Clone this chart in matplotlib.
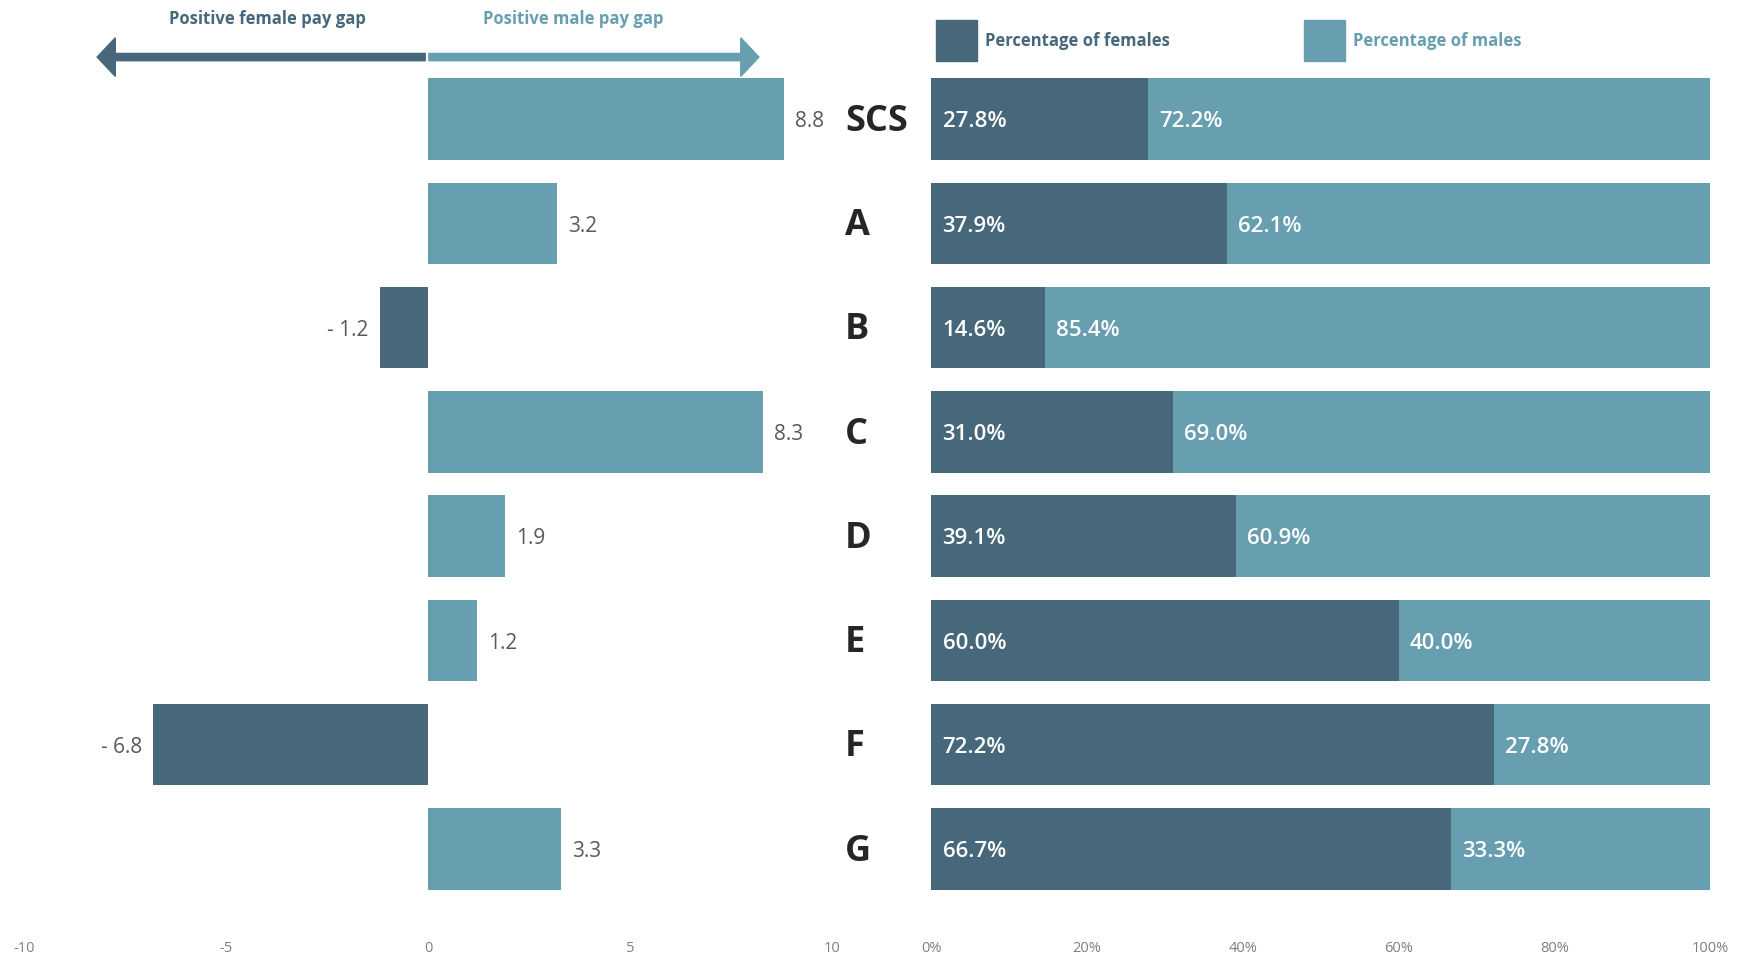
import matplotlib.pyplot as plt
from matplotlib.patches import FancyArrow, Rectangle

# ----------------------------
#  Datos
# ----------------------------
categorias = ["SCS", "A", "B", "C", "D", "E", "F", "G"]
brecha_salarial = [8.8, 3.2, -1.2, 8.3, 1.9, 1.2, -6.8, 3.3]
pct_mujeres = [27.8, 37.9, 14.6, 31.0, 39.1, 60.0, 72.2, 66.7]
pct_hombres = [72.2, 62.1, 85.4, 69.0, 60.9, 40.0, 27.8, 33.3]
ticks_brecha = [-10, -5, 0, 5, 10]
ticks_pct = [0, 20, 40, 60, 80, 100]

OSCURO = "#46687a"
CLARO = "#679fb1"
GRIS = "#595959"

plt.rcParams['font.family'] = ['Open Sans', 'DejaVu Sans']

fig = plt.figure(figsize=(17.43, 9.57), dpi=100)
ax1 = fig.add_axes([0.01377, 0.0585, 0.4636, 0.8715])
ax2 = fig.add_axes([0.5344, 0.0585, 0.4467, 0.8715])

y = list(range(len(categorias)))
alto = 0.78

# ---------------------------------------------------
#  Panel izquierdo: brecha salarial
# ---------------------------------------------------
colores = [CLARO if v >= 0 else OSCURO for v in brecha_salarial]
ax1.barh(y, brecha_salarial, height=alto, color=colores)
for yi, v in zip(y, brecha_salarial):
    if v >= 0:
        ax1.annotate(f"{v:.1f}", (v, yi), xytext=(8, -2), textcoords='offset points',
                     ha='left', va='center', fontsize=15, color=GRIS)
    else:
        ax1.annotate(f"- {abs(v):.1f}", (v, yi), xytext=(-8, -2), textcoords='offset points',
                     ha='right', va='center', fontsize=15, color=GRIS)

ax1.set_xlim(-10, 10)
ax1.set_ylim(7.5, -0.5)
ax1.set_xticks(ticks_brecha)
ax1.set_xticklabels([str(t) for t in ticks_brecha])
ax1.set_yticks([])

# flechas de cabecera
y_flecha = -0.595
ax1.add_patch(FancyArrow(-0.07, y_flecha, -8.12, 0, width=0.07, head_width=0.37,
                         head_length=0.45, length_includes_head=True,
                         color=OSCURO, clip_on=False))
ax1.add_patch(FancyArrow(0.02, y_flecha, 8.17, 0, width=0.07, head_width=0.37,
                         head_length=0.45, length_includes_head=True,
                         color=CLARO, clip_on=False))
ax1.text(-3.97, -0.96, "Positive female pay gap", ha='center', va='center',
         fontsize=12, fontweight='bold', color=OSCURO)
ax1.text(3.6, -0.96, "Positive male pay gap", ha='center', va='center',
         fontsize=12, fontweight='bold', color=CLARO)

# ---------------------------------------------------
#  Panel derecho: porcentajes
# ---------------------------------------------------
ax2.barh(y, pct_mujeres, height=alto, color=OSCURO)
ax2.barh(y, pct_hombres, left=pct_mujeres, height=alto, color=CLARO)
for yi, f, m in zip(y, pct_mujeres, pct_hombres):
    ax2.annotate(f"{f:.1f}%", (0, yi), xytext=(8, -2), textcoords='offset points',
                 ha='left', va='center', fontsize=16, color='white', fontweight='semibold')
    ax2.annotate(f"{m:.1f}%", (f, yi), xytext=(8, -2), textcoords='offset points',
                 ha='left', va='center', fontsize=16, color='white', fontweight='semibold')

trans = ax2.get_yaxis_transform()
for yi, cat in zip(y, categorias):
    ax2.annotate(cat, (-0.111, yi), xycoords=trans, xytext=(0, -2), textcoords='offset points',
                 ha='left', va='center', fontsize=26, fontweight='bold', color='#262626')

ax2.set_xlim(0, 100)
ax2.set_ylim(7.5, -0.5)
ax2.set_xticks(ticks_pct)
ax2.set_xticklabels([f"{t}%" for t in ticks_pct])
ax2.set_yticks([])

# leyenda manual
ax2.add_patch(Rectangle((0.58, -0.95), 5.27, 0.393, color=OSCURO, clip_on=False))
ax2.text(6.87, -0.75, "Percentage of females", ha='left', va='center',
         fontsize=12, fontweight='bold', color=OSCURO)
ax2.add_patch(Rectangle((47.8, -0.95), 5.27, 0.393, color=CLARO, clip_on=False))
ax2.text(54.1, -0.75, "Percentage of males", ha='left', va='center',
         fontsize=12, fontweight='bold', color=CLARO)

for ax in (ax1, ax2):
    for s in ax.spines.values():
        s.set_visible(False)
    ax.tick_params(axis='x', length=0, pad=29, labelsize=10.5, labelcolor='#7f7f7f')

fig.savefig("out.png", dpi=100, facecolor='white')
